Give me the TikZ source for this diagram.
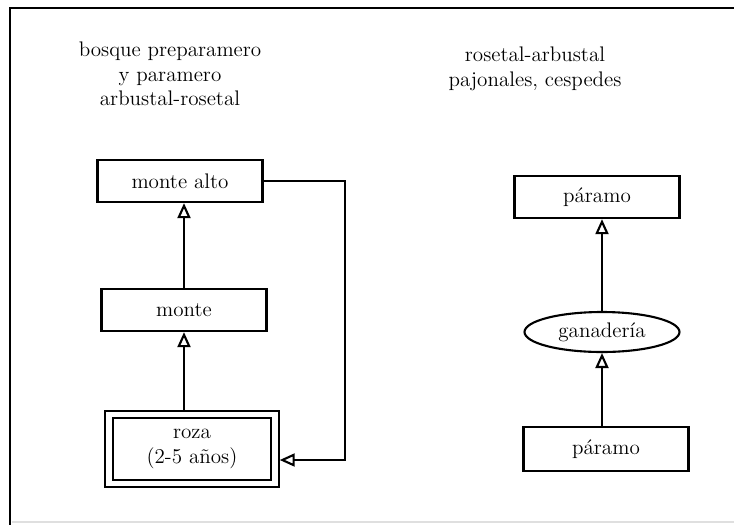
\documentclass[tikz,border=0pt]{standalone}
\usepackage{tikz}
\usetikzlibrary{
  arrows.meta,
  positioning,
  shapes.geometric
}
\tikzset{
  box/.style = {rectangle, draw=black, line width=1.3pt,
      minimum width=3.3cm, minimum height=0.84cm,
      inner sep=2pt, font=\large},
  dbox/.style = {box, double, double distance=3pt, line width=1.2pt,
      minimum width=3.32cm, minimum height=1.38cm,
      outer sep=2.7pt, align=center},
  oval/.style = {ellipse, draw=black, line width=1.2pt,
      minimum width=3.1cm, minimum height=0.8cm,
      inner sep=1pt, font=\large},
  title/.style = {align=center, font=\large},
  flow/.style = {line width=1.3pt,
      -{Triangle[open, length=3mm, width=2.6mm, line width=1.2pt]}},
  frame/.style = {line width=1.6pt},
}
\begin{document}
\begin{tikzpicture}[x=0.02cm, y=-0.02cm]
  \useasboundingbox (0,0) rectangle (734,525);

  % frame of the scan
  \draw[frame] (734,8) -- (10,8) -- (10,525);
  \draw[gray!25, line width=1pt] (12,522) -- (734,522);

  \node[title] (ltitle) at (170,74) {bosque preparamero\\y paramero\\arbustal-rosetal};
  \node[title] (rtitle) at (535,69) {rosetal-arbustal\\pajonales, cespedes};

  \node[box] (malto) at (180,181) {monte alto};
  \node[box] (monte) at (184,310) {monte};
  \node[dbox] (roza) at (192,449) {roza\\(2-5 años)};

  \node[box] (ptop) at (597,197) {páramo};
  \node[oval] (gan) at (602,332) {ganadería};
  \node[box, minimum height=0.88cm] (pbot) at (606,449) {páramo};

  \draw[flow] (roza.north -| monte.south) -- (monte.south);
  \draw[flow] (monte.north) -- (monte.north |- malto.south);
  \coordinate (loop) at (345,460);
  \draw[flow] (malto.east) -| (loop) -- (roza.east |- loop);

  \draw[flow] (gan.north) -- (gan.north |- ptop.south);
  \draw[flow] (pbot.north -| gan.south) -- (gan.south);
\end{tikzpicture}
\end{document}
